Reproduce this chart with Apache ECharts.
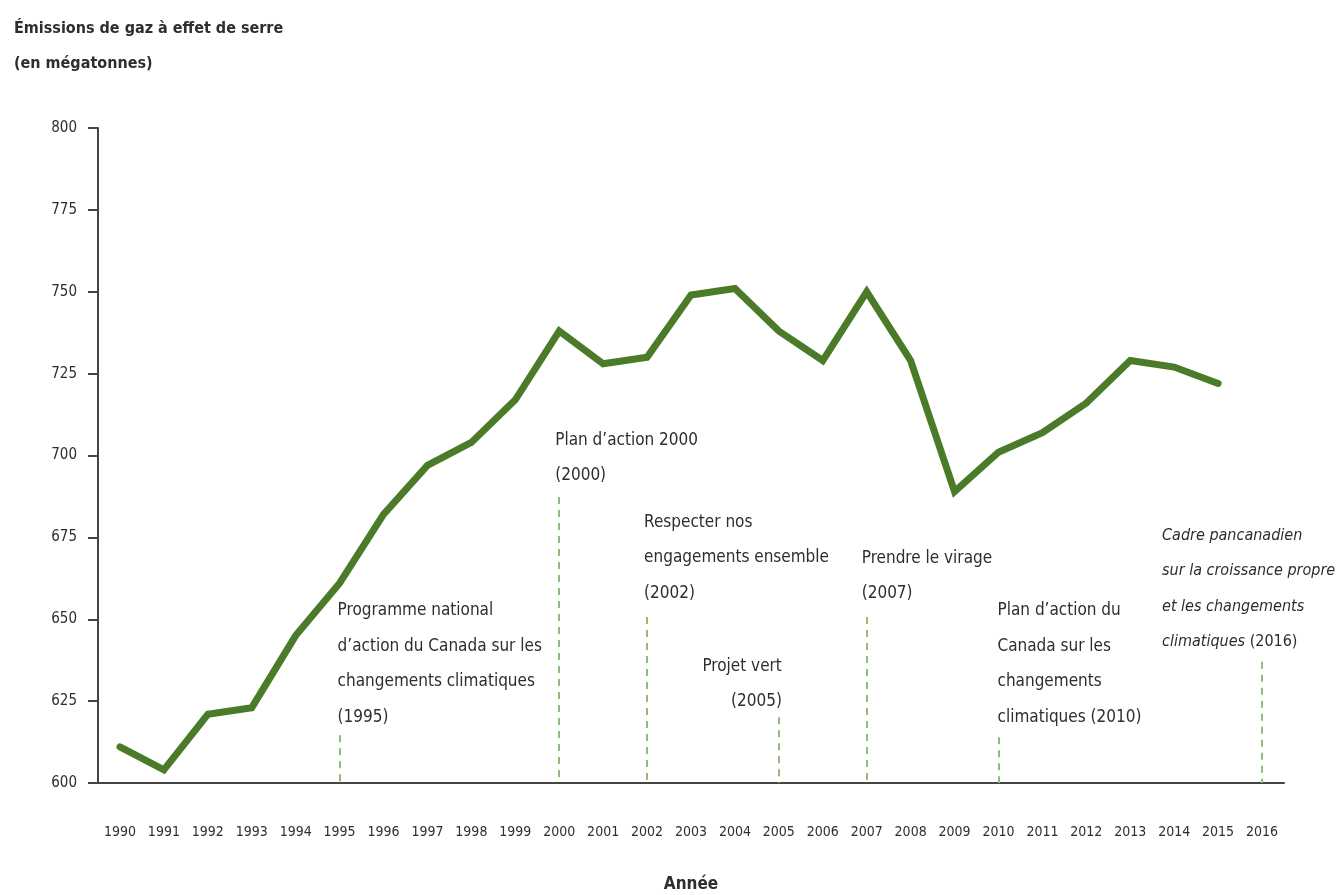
<!DOCTYPE html>
<html>
<head>
<meta charset="utf-8">
<script src="https://cdn.jsdelivr.net/npm/echarts@6/dist/echarts.min.js"></script>
<style>html,body{margin:0;padding:0;background:#fff}#c{width:1343px;height:895px}</style>
</head>
<body>
<div id="c"></div>
<script>
// ---- data ----
const years = ['1990','1991','1992','1993','1994','1995','1996','1997','1998','1999','2000','2001','2002','2003','2004','2005','2006','2007','2008','2009','2010','2011','2012','2013','2014','2015','2016'];
const emissions = [611,604,621,623,645,661,682,697,704,717,738,728,730,749,751,738,729,750,729,689,701,707,716,729,727,722,null];
const yTicks = {min:600, max:800, interval:25};
const titleText = 'Émissions de gaz à effet de serre\n(en mégatonnes)';
const xName = 'Année';
// annotation: year, text, value of label top, value of dashed-line top
const annYears = ['1995','2000','2002','2005','2007','2010','2016'];
const annTexts = [
  'Programme national\nd’action du Canada sur les\nchangements climatiques\n(1995)',
  'Plan d’action 2000\n(2000)',
  'Respecter nos\nengagements ensemble\n(2002)',
  'Projet vert\n(2005)',
  'Prendre le virage\n(2007)',
  'Plan d’action du\nCanada sur les\nchangements\nclimatiques (2010)',
  '{i|Cadre pancanadien}\n{i|sur la croissance propre}\n{i|et les changements}\n{i|climatiques}{n| (2016)}'
];
const annLabelVal = [658,710,685,641,674,658,681];
const annLineTop = [614.6,687.3,650.7,620.1,650.7,614,637];

// ---- layout / style ----
const FONT = "'DejaVu Sans Condensed','Liberation Sans Narrow','Liberation Sans',sans-serif";
const TXT = '#2e2e2e';
const annLayout = {
  '1995':{dx:-2, align:'left', fs:17}, '2000':{dx:-4, align:'left', fs:17}, '2002':{dx:-3, align:'left', fs:17},
  '2005':{dx:3, align:'right', fs:17}, '2007':{dx:-5, align:'left', fs:17}, '2010':{dx:-1, align:'left', fs:17},
  '2016':{dx:-100, align:'left', fs:16}
};
const LH = 35.5;

const annScatter = annYears.map((y,i)=>{
  const L = annLayout[y];
  return {
    value:[y, annLabelVal[i]],
    label:{
      show:true, formatter:annTexts[i], position:[L.dx,0], align:L.align, verticalAlign:'top',
      fontFamily:FONT, fontSize:L.fs, color:TXT, lineHeight:LH, opacity:1,
      rich:{
        i:{fontFamily:FONT, fontSize:L.fs, fontStyle:'italic', color:TXT, lineHeight:LH},
        n:{fontFamily:FONT, fontSize:L.fs, color:TXT, lineHeight:LH}
      }
    }
  };
});
const annLines = annYears.map((y,i)=>[{coord:[y, annLineTop[i]]},{coord:[y, yTicks.min]}]);

const chart = echarts.init(document.getElementById('c'));
chart.setOption({
  animation:false,
  backgroundColor:'#fff',
  title:{
    text:titleText, left:9, top:6,
    textStyle:{fontFamily:FONT, fontSize:16, fontWeight:'bold', color:TXT, lineHeight:35}
  },
  grid:{left:98, right:59, top:128, bottom:112, containLabel:false, outerBoundsMode:'none'},
  xAxis:{
    type:'category', data:years, boundaryGap:true,
    name:xName, nameLocation:'middle', nameGap:93,
    nameTextStyle:{fontFamily:FONT, fontSize:17, fontWeight:'bold', color:TXT},
    axisLine:{lineStyle:{color:'#444', width:2}},
    axisTick:{alignWithLabel:true, length:12, lineStyle:{color:'#444', width:2}},
    axisLabel:{fontFamily:FONT, fontSize:14, color:TXT, margin:42, interval:0},
    splitLine:{show:false}
  },
  yAxis:{
    type:'value', min:yTicks.min, max:yTicks.max, interval:yTicks.interval,
    axisLine:{show:true, lineStyle:{color:'#444', width:2}},
    axisTick:{show:true, length:10, lineStyle:{color:'#444', width:2}},
    axisLabel:{fontFamily:FONT, fontSize:15, color:TXT, margin:21},
    splitLine:{show:false}
  },
  series:[
    {
      type:'scatter', data:annScatter, symbolSize:0, silent:true, z:1,
      itemStyle:{opacity:1},
      markLine:{
        silent:true, symbol:['none','none'], label:{show:false},
        lineStyle:{color:'#8fbb7c', width:2, type:[7,6], opacity:1},
        data:annLines
      }
    },
    {
      type:'line', data:emissions, symbol:'none', z:5,
      lineStyle:{color:'#4a7b29', width:7, join:'miter', cap:'round'}
    }
  ]
});
</script>
</body>
</html>
